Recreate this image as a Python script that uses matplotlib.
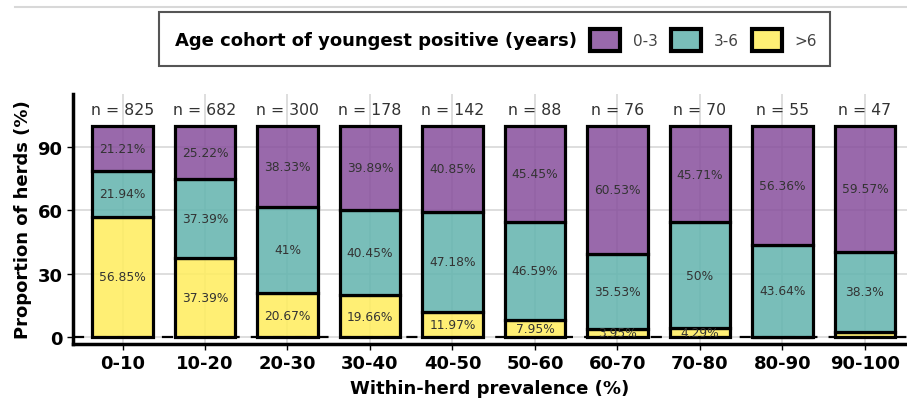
import matplotlib
matplotlib.use("Agg")
import matplotlib.pyplot as plt
from matplotlib.patches import Patch, Rectangle
from matplotlib.lines import Line2D
import numpy as np

# prevalence bins and herd counts
categories = ['0-10', '10-20', '20-30', '30-40', '40-50', '50-60',
              '60-70', '70-80', '80-90', '90-100']
n_herds = [825, 682, 300, 178, 142, 88, 76, 70, 55, 47]

# percentage of herds by age cohort of youngest positive
pct_0_3 = [21.21, 25.22, 38.33, 39.89, 40.85, 45.45, 60.53, 45.71, 56.36, 59.57]
pct_3_6 = [21.94, 37.39, 41.0, 40.45, 47.18, 46.59, 35.53, 50.0, 43.64, 38.3]
pct_gt6 = [56.85, 37.39, 20.67, 19.66, 11.97, 7.95, 3.95, 4.29, 0.0, 2.13]

cohorts = ['0-3', '3-6', '>6']
colors = {'0-3': (0.53, 0.31, 0.61, 0.85),
          '3-6': (0.40, 0.71, 0.69, 0.88),
          '>6': (1.00, 0.93, 0.38, 0.88)}

plt.rcParams['font.family'] = 'DejaVu Sans'

fig = plt.figure(figsize=(9.07, 4.10), dpi=100)
ax = fig.add_axes([0.0805, 0.159, 0.9195, 0.609])

x = np.arange(len(categories))
width = 0.73

ax.axhline(0, color='black', lw=1.6, ls=(0, (5, 5)), zorder=1)

bottom = np.zeros(len(categories))
for name, vals in [('>6', pct_gt6), ('3-6', pct_3_6), ('0-3', pct_0_3)]:
    vals = np.array(vals)
    ax.bar(x, vals, width, bottom=bottom, color=colors[name],
           edgecolor='black', linewidth=2.3, zorder=2)
    for xi, b, v in zip(x, bottom, vals):
        if v >= 3:
            ax.text(xi, b + v / 2, f'{v:g}%', ha='center', va='center',
                    fontsize=8.8, color='#333333', zorder=3)
    bottom += vals

for xi, n in zip(x, n_herds):
    ax.text(xi, 104, f'n = {n}', ha='center', va='bottom',
            fontsize=11.3, color='#333333')

ax.set_xlim(-0.6, 9.51)
ax.set_ylim(-3.3, 115)
ax.set_xticks(x)
ax.set_xticklabels(categories, fontsize=13, fontweight='bold')
ax.set_yticks([0, 30, 60, 90])
ax.set_yticklabels(['0', '30', '60', '90'], fontsize=13, fontweight='bold')
ax.tick_params(length=4, width=1, colors='black')
ax.grid(True, color='#d4d4d4', lw=1.1, zorder=0)
ax.set_axisbelow(True)
for s in ['top', 'right']:
    ax.spines[s].set_visible(False)
for s in ['left', 'bottom']:
    ax.spines[s].set_linewidth(2.5)

ax.set_xlabel('Within-herd prevalence (%)', fontsize=13, fontweight='bold', labelpad=5)
ax.set_ylabel('Proportion of herds (%)', fontsize=13, fontweight='bold', labelpad=4)

W, H = 907, 410
# faint separator line along the top edge
fig.lines.append(Line2D([15 / W, 1], [1 - 8 / H, 1 - 8 / H], transform=fig.transFigure,
                        color='#d8d8d8', lw=1.5))

# legend: title sits left of the keys, inside one box
fig.patches.append(Rectangle((159 / W, 1 - 67 / H), 671 / W, 54 / H,
                             transform=fig.transFigure, facecolor='white',
                             edgecolor='#555555', lw=1.5, zorder=0))
handles = [Patch(visible=False)] + [
    Patch(facecolor=colors[c], edgecolor='black', linewidth=3) for c in cohorts]
labels = ['Age cohort of youngest positive (years)'] + cohorts
leg = fig.legend(handles, labels, loc='center left',
                 bbox_to_anchor=(132 / W, 1 - 41 / H),
                 ncol=4, fontsize=11, frameon=False, borderpad=0,
                 borderaxespad=0, handlelength=1.96, handleheight=1.83,
                 handletextpad=0.85, columnspacing=0.85)
for t in leg.get_texts()[1:]:
    t.set_color('#444444')
t0 = leg.get_texts()[0]
t0.set_fontweight('bold')
t0.set_fontsize(13)

fig.savefig('out.png', dpi=100)
